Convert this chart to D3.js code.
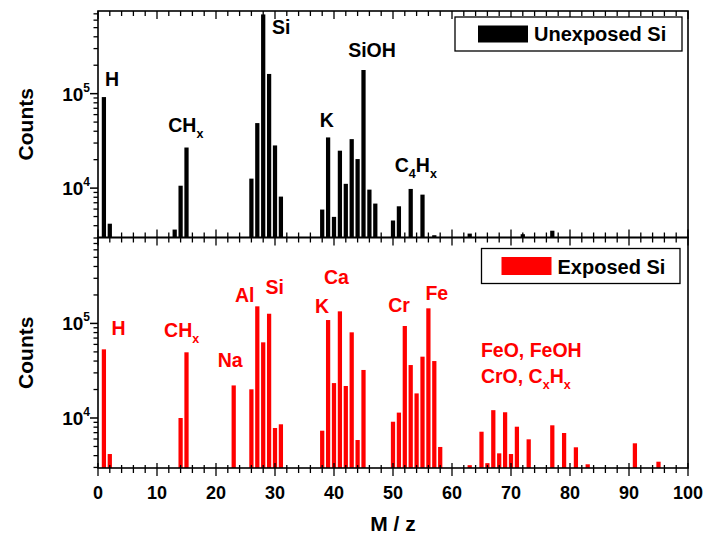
<!doctype html>
<html>
<head>
<meta charset="utf-8">
<script src="https://cdn.jsdelivr.net/npm/d3@7/dist/d3.min.js"></script>
<style>
body{margin:0;background:#fff}
svg text{font-family:Arial,"Liberation Sans",sans-serif;font-weight:bold}
</style>
</head>
<body>
<svg id="chart" width="703" height="535"></svg>
<script>
// m/z positions and counts
var mzUnexposed=[1,2,13,14,15,26,27,28,29,30,31,38,39,40,41,42,43,44,45,46,47,50,51,53,55,57,63,72,77];
var cntUnexposed=[92000,4200,3640,10600,26900,12600,48800,690000,161700,28300,8130,5930,34400,4960,24900,11100,33000,20300,178000,9640,6860,4540,6420,9800,8530,3170,3300,3250,3540];
var mzExposed=[1,2,14,15,23,26,27,28,29,30,31,38,39,40,41,42,43,44,45,50,51,52,53,54,55,56,57,58,63,65,66,67,68,69,70,71,73,77,79,81,83,91,95];
var cntExposed=[53200,4160,10000,49500,22100,20100,151600,63100,126600,7840,8580,7340,108600,23400,134200,21800,80500,5850,32200,9130,11400,93900,36300,18200,44500,144400,40000,4940,3170,7160,3330,12100,4230,11500,4160,8090,5950,8370,6940,4900,3240,5400,3450];

// peak annotations: text ("_" = next char subscript), m/z of left edge, counts at baseline
var labelsUnexposed=[["H",1.2,120000],["CH_x",11.9,39300],["Si",29.5,428000],["SiOH",42.4,244000],["K",37.6,44400],["C_4H_x",50.3,14800]];
var labelsExposed=[["H",2.3,75400],["CH_x",11.2,72300],["Na",20.3,34900],["Al",23.2,167000],["Si",28.4,204500],["K",36.8,128700],["Ca",38.3,260800],["Cr",49.2,132900],["Fe",55.5,176700],["FeO, FeOH",64.9,44500],["CrO, C_xH_x",64.9,23400]];

var xTicks=[0,10,20,30,40,50,60,70,80,90,100];
var yMajor=[1e4,1e5];

var svg=d3.select("#chart");
var x=d3.scaleLinear().domain([0,100]).range([98,688]);

var yTop=d3.scaleLog().domain([3000,750000]).range([237.5,11]);
var yBot=d3.scaleLog().domain([2960,810000]).range([468,237.5]);

function minorTicks(y){
    var d=y.domain(),out=[];
    [1e3,1e4,1e5].forEach(function(p){
        for(var k=2;k<=9;k++){var v=k*p;if(v>d[0]&&v<d[1])out.push(v);}
    });
    return out;
}

function xTickLines(g,yPos,dir,cross){
    var minor=d3.range(0,101,2);
    g.selectAll(null).data(minor).enter().append("line")
        .attr("x1",d=>x(d)).attr("x2",d=>x(d))
        .attr("y1",d=>yPos-(cross?(d%10==0?5:3):0))
        .attr("y2",d=>yPos+dir*(d%10==0?8:5))
        .attr("stroke","#000").attr("stroke-width",1.3);
}

function addRich(t,str,subSize){
    var parts=str.split(/(_.)/);
    var wasSub=false;
    parts.forEach(function(p){
        if(!p)return;
        if(p[0]=="_"){
            t.append("tspan").text(p[1]).attr("font-size",subSize).attr("dy",wasSub?0:6);
            wasSub=true;
        }else{
            t.append("tspan").text(p).attr("dy",wasSub?-6:0);
            wasSub=false;
        }
    });
}

function panel(y,mz,cnt,color,labels,legendText,lg){
    var g=svg.append("g");
    var base=y.range()[0],top=y.range()[1];
    // bars
    g.selectAll("rect.bar").data(mz).enter().append("rect").attr("class","bar")
        .attr("x",d=>x(d-0.36)).attr("width",x(0.72)-x(0))
        .attr("y",(d,i)=>y(cnt[i])).attr("height",(d,i)=>base-y(cnt[i]))
        .attr("fill",color);
    // left ticks
    g.selectAll(null).data(minorTicks(y)).enter().append("line")
        .attr("x1",x(0)-4.5).attr("x2",x(0)).attr("y1",d=>y(d)).attr("y2",d=>y(d))
        .attr("stroke","#000").attr("stroke-width",1.3);
    g.selectAll(null).data(yMajor).enter().append("line")
        .attr("x1",x(0)-8).attr("x2",x(0)).attr("y1",d=>y(d)).attr("y2",d=>y(d))
        .attr("stroke","#000").attr("stroke-width",1.5);
    var tl=g.selectAll(null).data(yMajor).enter().append("text")
        .attr("x",x(0)-8).attr("y",d=>y(d)+7).attr("text-anchor","end")
        .attr("font-size",19).attr("fill","#000");
    tl.append("tspan").text("10");
    tl.append("tspan").text(d=>Math.round(Math.log10(d))).attr("font-size",12).attr("dy",-9);
    // top ticks inward
    xTickLines(g,top,1,false);
    // frame
    g.append("rect").attr("x",x(0)).attr("y",top).attr("width",x(100)-x(0)).attr("height",base-top)
        .attr("fill","none").attr("stroke","#000").attr("stroke-width",1.6);
    // peak labels
    labels.forEach(function(l){
        var t=g.append("text").attr("x",x(l[1])).attr("y",y(l[2]))
            .attr("font-size",19.5).attr("fill",color);
        addRich(t,l[0],12.5);
    });
    // legend
    g.append("rect").attr("x",lg[0]).attr("y",lg[1]).attr("width",lg[2]).attr("height",lg[3])
        .attr("fill","#fff").attr("stroke","#000").attr("stroke-width",1.3);
    g.append("rect").attr("x",lg[0]+lg[4]).attr("y",lg[1]+8.5).attr("width",50).attr("height",lg[3]-17)
        .attr("fill",color);
    g.append("text").attr("x",lg[0]+lg[4]+56).attr("y",lg[1]+lg[3]-10)
        .attr("font-size",20).attr("fill","#000").text(legendText);
    // Counts
    g.append("text").attr("transform","translate(33,"+((base+top)/2+0)+") rotate(-90)")
        .attr("text-anchor","middle").attr("font-size",21).attr("fill","#000").text("Counts");
    return g;
}

var gt=panel(yTop,mzUnexposed,cntUnexposed,"#000",labelsUnexposed,"Unexposed Si",[455,17,227,34,23]);
xTickLines(gt,237.5,-1,false);
var gb=panel(yBot,mzExposed,cntExposed,"#ff0000",labelsExposed,"Exposed Si",[481.5,248.5,198.5,35,20]);
xTickLines(gb,468,1,true);

svg.selectAll("text.xt").data(xTicks).enter().append("text").attr("class","xt")
    .attr("x",d=>x(d)).attr("y",499).attr("text-anchor","middle")
    .attr("font-size",18).attr("fill","#000").text(d=>d);

svg.append("text").attr("x",x(50)).attr("y",531).attr("text-anchor","middle")
    .attr("font-size",21).attr("fill","#000").text("M / z");
</script>
</body>
</html>
